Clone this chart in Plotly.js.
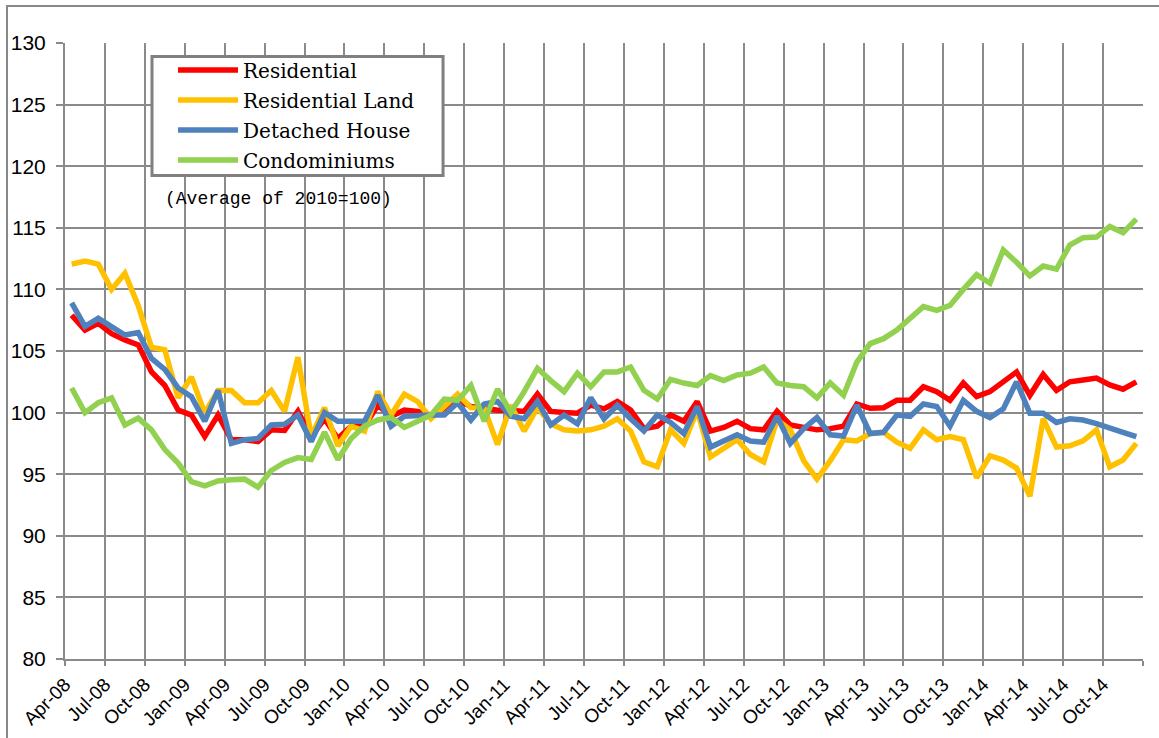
<!DOCTYPE html>
<html><head><meta charset="utf-8">
<script src="https://cdn.plot.ly/plotly-3.0.1.min.js"></script>
<style>
html,body{margin:0;padding:0;width:1159px;height:738px;overflow:hidden;background:#fff;}
#chart{position:absolute;left:0;top:0;width:1159px;height:738px;}
#frame{position:absolute;left:6px;top:5px;width:1200px;height:800px;border-left:2px solid #888;border-top:2px solid #888;pointer-events:none;}
</style></head>
<body><div id="chart"></div><div id="frame"></div>
<script>
const months = ["Apr-08","May-08","Jun-08","Jul-08","Aug-08","Sep-08","Oct-08","Nov-08","Dec-08",
"Jan-09","Feb-09","Mar-09","Apr-09","May-09","Jun-09","Jul-09","Aug-09","Sep-09","Oct-09","Nov-09","Dec-09",
"Jan-10","Feb-10","Mar-10","Apr-10","May-10","Jun-10","Jul-10","Aug-10","Sep-10","Oct-10","Nov-10","Dec-10",
"Jan-11","Feb-11","Mar-11","Apr-11","May-11","Jun-11","Jul-11","Aug-11","Sep-11","Oct-11","Nov-11","Dec-11",
"Jan-12","Feb-12","Mar-12","Apr-12","May-12","Jun-12","Jul-12","Aug-12","Sep-12","Oct-12","Nov-12","Dec-12",
"Jan-13","Feb-13","Mar-13","Apr-13","May-13","Jun-13","Jul-13","Aug-13","Sep-13","Oct-13","Nov-13","Dec-13",
"Jan-14","Feb-14","Mar-14","Apr-14","May-14","Jun-14","Jul-14","Aug-14","Sep-14","Oct-14","Nov-14","Dec-14"];

const residential = [107.9,106.7,107.25,106.4,105.9,105.5,103.3,102.2,100.2,
99.8,98.05,99.8,97.8,97.8,97.65,98.6,98.55,100.1,98.05,99.5,97.9,
98.9,98.9,100.6,99.7,100.2,100.1,99.8,100.35,101.0,100.5,100.3,100.2,
100.2,100.1,101.5,100.1,100.0,99.95,100.6,100.3,100.9,100.2,98.7,98.9,
99.8,99.3,100.9,98.5,98.8,99.3,98.7,98.6,100.1,99.0,98.8,98.6,
98.7,98.9,100.7,100.35,100.4,101.0,101.0,102.1,101.7,101.0,102.4,101.3,
101.7,102.5,103.3,101.4,103.1,101.8,102.5,102.65,102.8,102.25,101.9,102.5];

const residentialLand = [112.05,112.3,112.05,110.0,111.3,108.7,105.3,105.1,101.2,
102.9,99.95,101.8,101.8,100.8,100.8,101.8,100.1,104.5,98.05,100.4,97.3,
98.9,98.5,101.7,99.8,101.5,100.9,99.5,100.5,101.5,100.4,100.35,97.4,
100.6,98.5,100.4,99.1,98.6,98.5,98.6,98.9,99.5,98.5,96.0,95.6,
98.6,97.5,100.2,96.4,97.1,97.8,96.6,96.0,99.4,98.6,96.1,94.6,
96.1,97.8,97.7,98.3,98.4,97.6,97.1,98.6,97.8,98.05,97.8,94.7,
96.5,96.15,95.5,93.2,99.5,97.2,97.3,97.7,98.6,95.6,96.15,97.5];

const detachedHouse = [108.9,107.0,107.65,106.97,106.3,106.5,104.4,103.5,102.0,
101.3,99.3,101.8,97.5,97.8,97.9,99.0,99.05,99.8,97.65,100.0,99.3,
99.3,99.3,101.4,98.9,99.7,99.8,99.8,99.8,100.8,99.4,100.7,100.9,
99.7,99.5,100.9,99.0,99.8,99.1,101.2,99.5,100.6,99.5,98.5,99.8,
99.2,98.3,100.5,97.2,97.7,98.2,97.7,97.6,99.7,97.5,98.7,99.6,
98.2,98.1,100.6,98.3,98.4,99.8,99.7,100.7,100.5,98.9,101.0,100.1,
99.6,100.3,102.5,99.95,99.95,99.2,99.5,99.4,99.1,98.8,98.4,98.05];

const condominiums = [102.0,100.0,100.8,101.2,99.0,99.55,98.6,97.0,95.9,
94.4,94.05,94.45,94.55,94.6,93.95,95.3,95.95,96.35,96.2,98.4,96.2,
97.9,98.9,99.4,99.6,98.8,99.3,99.8,101.1,101.0,102.2,99.3,101.9,
100.0,101.7,103.6,102.6,101.7,103.2,102.1,103.3,103.3,103.7,101.8,101.1,
102.7,102.4,102.2,103.0,102.6,103.05,103.2,103.7,102.4,102.2,102.1,101.2,
102.4,101.4,104.1,105.6,106.0,106.7,107.6,108.6,108.3,108.7,110.0,111.2,
110.5,113.2,112.2,111.1,111.9,111.65,113.6,114.2,114.25,115.1,114.6,115.7];

const seriesNames = ["Residential","Residential Land","Detached House","Condominiums"];
const seriesColors = ["#FF0000","#FFC000","#4F81BD","#92D050"];
const seriesValues = [residential, residentialLand, detachedHouse, condominiums];
const noteText = "(Average of 2010=100)";

const xIdx = months.map((m, i) => i);
const tickIdx = xIdx.filter(i => i % 3 === 0);
const tickvals = tickIdx.map(i => i - 0.5).concat([months.length - 0.5]);
const ticktext = tickIdx.map(i => months[i]).concat([""]);

const traces = seriesValues.map((vals, k) => ({
  type: "scatter", mode: "lines",
  x: xIdx, y: vals, name: seriesNames[k], legendgroup: "g" + k,
  line: {color: seriesColors[k], width: 5.5},
  customdata: months,
  hovertemplate: "%{customdata}: %{y}<extra>" + seriesNames[k] + "</extra>"
}));

const gridC = "#8a8a8a";
const tickFam = "'Liberation Sans Narrow', 'Liberation Sans', Arial, sans-serif";

const layout = {
  width: 1159, height: 738,
  margin: {l: 65, r: 16, t: 43, b: 79, pad: 0},
  paper_bgcolor: "#ffffff", plot_bgcolor: "#ffffff",
  showlegend: true,
  xaxis: {
    range: [-0.5, months.length - 0.5],
    tickmode: "array", tickvals: tickvals, ticktext: ticktext,
    tickangle: -45,
    showgrid: true, gridcolor: gridC, gridwidth: 2,
    ticks: "outside", ticklen: 5, tickwidth: 2, tickcolor: gridC,
    showline: true, linecolor: gridC, linewidth: 2,
    zeroline: false,
    tickfont: {family: tickFam, size: 19, color: "#000"}
  },
  yaxis: {
    range: [80, 130], tickmode: "linear", tick0: 80, dtick: 5,
    showgrid: true, gridcolor: gridC, gridwidth: 2,
    ticks: "outside", ticklen: 7, tickwidth: 2, tickcolor: gridC,
    showline: true, linecolor: gridC, linewidth: 2,
    zeroline: false, ticklabelstandoff: 6,
    tickfont: {family: tickFam, size: 21, color: "#000"}
  },
  legend: {
    x: 0.1002, y: 0.988, xanchor: "left", yanchor: "top",
    bgcolor: "rgba(0,0,0,0)", borderwidth: 0,
    font: {family: "'DejaVu Serif', 'Liberation Serif', serif", size: 20, color: "#000"},
    tracegroupgap: 1, itemwidth: 60
  },
  shapes: [{
    type: "rect", xref: "paper", yref: "paper",
    x0: 0.0807, x1: 0.3507, y0: 0.785, y1: 0.978,
    line: {color: "#808080", width: 3}, fillcolor: "#ffffff", layer: "above"
  }],
  annotations: [{
    text: noteText, xref: "paper", yref: "paper", x: 0.091, y: 0.747,
    xanchor: "left", yanchor: "middle", showarrow: false,
    font: {family: "'Liberation Mono', 'DejaVu Sans Mono', monospace", size: 18, color: "#000"}
  }]
};

Plotly.newPlot("chart", traces, layout, {displayModeBar: false});
</script>
</body></html>
